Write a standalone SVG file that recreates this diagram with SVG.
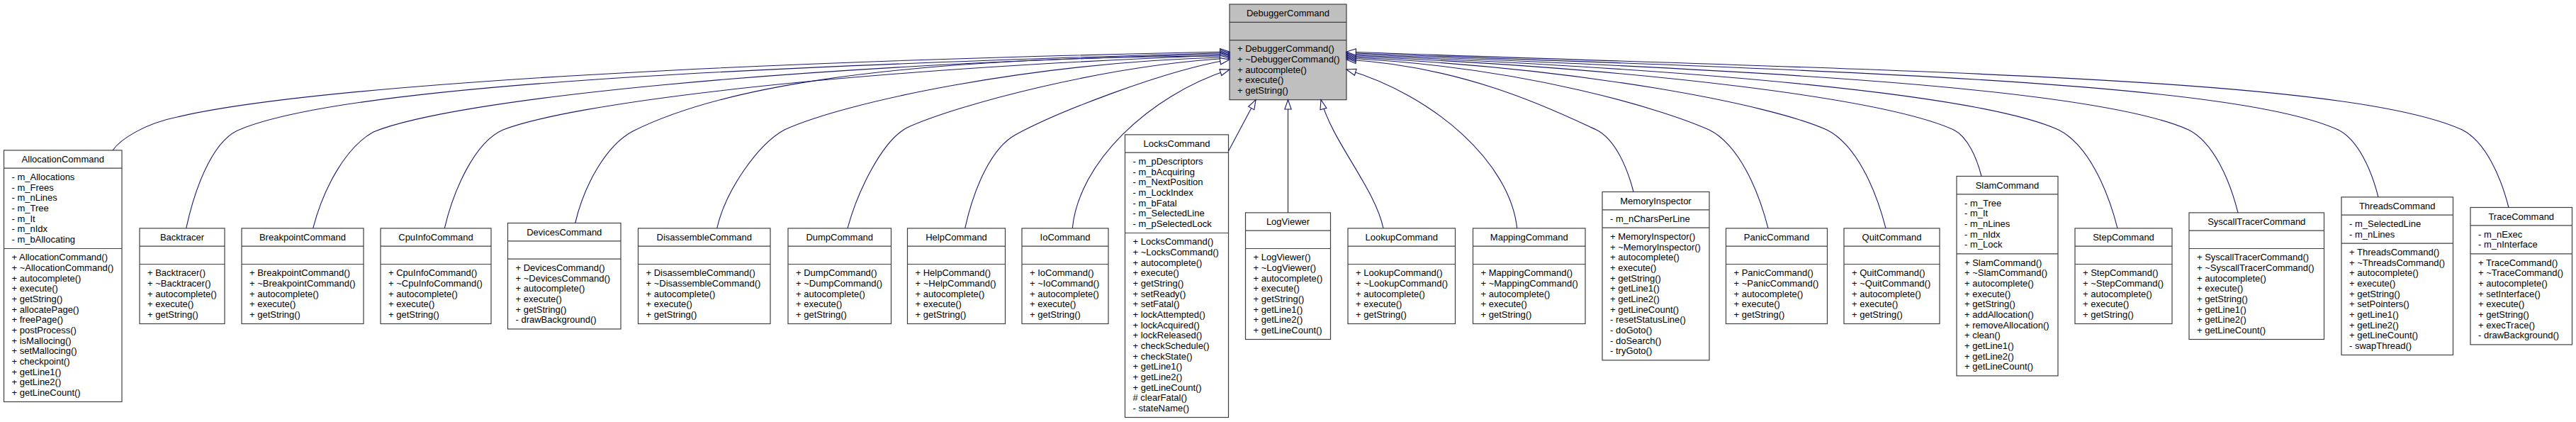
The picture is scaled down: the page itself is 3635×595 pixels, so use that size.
<svg xmlns="http://www.w3.org/2000/svg" width="3635" height="595" viewBox="0 0 3635 595">
<style>
.box{fill:#ffffff;stroke:#404040;stroke-width:1.2}
.root{fill:#bfbfbf;stroke:#404040;stroke-width:1.2}
.sep{fill:none;stroke:#404040;stroke-width:1.2}
text{font-family:"Liberation Sans",Arial,Helvetica,sans-serif;font-size:13px;fill:#000000}
.t{text-anchor:middle}
.e{fill:none;stroke:#191970;stroke-width:1.1;marker-end:url(#arr)}
</style>
<defs>
<marker id="arr" markerUnits="userSpaceOnUse" markerWidth="16" markerHeight="12" refX="13.3" refY="4.65" orient="auto" overflow="visible">
<path d="M0,0 L13.3,4.65 L0,9.3 Z" fill="#ffffff" stroke="#191970" stroke-width="1.1"/>
</marker>
</defs>
<rect x="0" y="0" width="3635" height="595" fill="#ffffff"/>

<g id="DebuggerCommand">
<rect class="root" x="1735" y="6" width="165" height="134.7"/>
<path class="sep" d="M1735,31.3h165M1735,56.7h165"/>
<text class="t" x="1817.5" y="23">DebuggerCommand</text>
<text><tspan x="1746" y="73.4">+ DebuggerCommand()</tspan><tspan x="1746" dy="14.67">+ ~DebuggerCommand()</tspan><tspan x="1746" dy="14.67">+ autocomplete()</tspan><tspan x="1746" dy="14.67">+ execute()</tspan><tspan x="1746" dy="14.67">+ getString()</tspan></text>
</g>

<g id="AllocationCommand">
<rect class="box" x="5.5" y="211.9" width="166.5" height="354.6"/>
<path class="sep" d="M5.5,237.2h166.5M5.5,350.5h166.5"/>
<text class="t" x="88.75" y="228.9">AllocationCommand</text>
<text><tspan x="16.5" y="253.9">- m_Allocations</tspan><tspan x="16.5" dy="14.67">- m_Frees</tspan><tspan x="16.5" dy="14.67">- m_nLines</tspan><tspan x="16.5" dy="14.67">- m_Tree</tspan><tspan x="16.5" dy="14.67">- m_It</tspan><tspan x="16.5" dy="14.67">- m_nIdx</tspan><tspan x="16.5" dy="14.67">- m_bAllocating</tspan></text>
<text><tspan x="16.5" y="367.2">+ AllocationCommand()</tspan><tspan x="16.5" dy="14.67">+ ~AllocationCommand()</tspan><tspan x="16.5" dy="14.67">+ autocomplete()</tspan><tspan x="16.5" dy="14.67">+ execute()</tspan><tspan x="16.5" dy="14.67">+ getString()</tspan><tspan x="16.5" dy="14.67">+ allocatePage()</tspan><tspan x="16.5" dy="14.67">+ freePage()</tspan><tspan x="16.5" dy="14.67">+ postProcess()</tspan><tspan x="16.5" dy="14.67">+ isMallocing()</tspan><tspan x="16.5" dy="14.67">+ setMallocing()</tspan><tspan x="16.5" dy="14.67">+ checkpoint()</tspan><tspan x="16.5" dy="14.67">+ getLine1()</tspan><tspan x="16.5" dy="14.67">+ getLine2()</tspan><tspan x="16.5" dy="14.67">+ getLineCount()</tspan></text>
</g>

<g id="Backtracer">
<rect class="box" x="197" y="321.9" width="120" height="134.6"/>
<path class="sep" d="M197,347.2h120M197,372.5h120"/>
<text class="t" x="257" y="338.9">Backtracer</text>
<text><tspan x="208" y="389.2">+ Backtracer()</tspan><tspan x="208" dy="14.67">+ ~Backtracer()</tspan><tspan x="208" dy="14.67">+ autocomplete()</tspan><tspan x="208" dy="14.67">+ execute()</tspan><tspan x="208" dy="14.67">+ getString()</tspan></text>
</g>

<g id="BreakpointCommand">
<rect class="box" x="341" y="321.9" width="172" height="134.6"/>
<path class="sep" d="M341,347.2h172M341,372.5h172"/>
<text class="t" x="427" y="338.9">BreakpointCommand</text>
<text><tspan x="352" y="389.2">+ BreakpointCommand()</tspan><tspan x="352" dy="14.67">+ ~BreakpointCommand()</tspan><tspan x="352" dy="14.67">+ autocomplete()</tspan><tspan x="352" dy="14.67">+ execute()</tspan><tspan x="352" dy="14.67">+ getString()</tspan></text>
</g>

<g id="CpuInfoCommand">
<rect class="box" x="537" y="321.9" width="156" height="134.6"/>
<path class="sep" d="M537,347.2h156M537,372.5h156"/>
<text class="t" x="615" y="338.9">CpuInfoCommand</text>
<text><tspan x="548" y="389.2">+ CpuInfoCommand()</tspan><tspan x="548" dy="14.67">+ ~CpuInfoCommand()</tspan><tspan x="548" dy="14.67">+ autocomplete()</tspan><tspan x="548" dy="14.67">+ execute()</tspan><tspan x="548" dy="14.67">+ getString()</tspan></text>
</g>

<g id="DevicesCommand">
<rect class="box" x="716.5" y="314.5" width="159.5" height="149.4"/>
<path class="sep" d="M716.5,339.8h159.5M716.5,365.2h159.5"/>
<text class="t" x="796.25" y="331.5">DevicesCommand</text>
<text><tspan x="727.5" y="381.9">+ DevicesCommand()</tspan><tspan x="727.5" dy="14.67">+ ~DevicesCommand()</tspan><tspan x="727.5" dy="14.67">+ autocomplete()</tspan><tspan x="727.5" dy="14.67">+ execute()</tspan><tspan x="727.5" dy="14.67">+ getString()</tspan><tspan x="727.5" dy="14.67">- drawBackground()</tspan></text>
</g>

<g id="DisassembleCommand">
<rect class="box" x="900.5" y="321.9" width="186.5" height="134.6"/>
<path class="sep" d="M900.5,347.2h186.5M900.5,372.5h186.5"/>
<text class="t" x="993.75" y="338.9">DisassembleCommand</text>
<text><tspan x="911.5" y="389.2">+ DisassembleCommand()</tspan><tspan x="911.5" dy="14.67">+ ~DisassembleCommand()</tspan><tspan x="911.5" dy="14.67">+ autocomplete()</tspan><tspan x="911.5" dy="14.67">+ execute()</tspan><tspan x="911.5" dy="14.67">+ getString()</tspan></text>
</g>

<g id="DumpCommand">
<rect class="box" x="1112" y="321.9" width="145.5" height="134.6"/>
<path class="sep" d="M1112,347.2h145.5M1112,372.5h145.5"/>
<text class="t" x="1184.75" y="338.9">DumpCommand</text>
<text><tspan x="1123" y="389.2">+ DumpCommand()</tspan><tspan x="1123" dy="14.67">+ ~DumpCommand()</tspan><tspan x="1123" dy="14.67">+ autocomplete()</tspan><tspan x="1123" dy="14.67">+ execute()</tspan><tspan x="1123" dy="14.67">+ getString()</tspan></text>
</g>

<g id="HelpCommand">
<rect class="box" x="1280.5" y="321.9" width="138" height="134.6"/>
<path class="sep" d="M1280.5,347.2h138M1280.5,372.5h138"/>
<text class="t" x="1349.5" y="338.9">HelpCommand</text>
<text><tspan x="1291.5" y="389.2">+ HelpCommand()</tspan><tspan x="1291.5" dy="14.67">+ ~HelpCommand()</tspan><tspan x="1291.5" dy="14.67">+ autocomplete()</tspan><tspan x="1291.5" dy="14.67">+ execute()</tspan><tspan x="1291.5" dy="14.67">+ getString()</tspan></text>
</g>

<g id="IoCommand">
<rect class="box" x="1442" y="321.9" width="122" height="134.6"/>
<path class="sep" d="M1442,347.2h122M1442,372.5h122"/>
<text class="t" x="1503" y="338.9">IoCommand</text>
<text><tspan x="1453" y="389.2">+ IoCommand()</tspan><tspan x="1453" dy="14.67">+ ~IoCommand()</tspan><tspan x="1453" dy="14.67">+ autocomplete()</tspan><tspan x="1453" dy="14.67">+ execute()</tspan><tspan x="1453" dy="14.67">+ getString()</tspan></text>
</g>

<g id="LocksCommand">
<rect class="box" x="1587.5" y="189.9" width="146" height="398.6"/>
<path class="sep" d="M1587.5,215.2h146M1587.5,328.5h146"/>
<text class="t" x="1660.5" y="206.9">LocksCommand</text>
<text><tspan x="1598.5" y="231.9">- m_pDescriptors</tspan><tspan x="1598.5" dy="14.67">- m_bAcquiring</tspan><tspan x="1598.5" dy="14.67">- m_NextPosition</tspan><tspan x="1598.5" dy="14.67">- m_LockIndex</tspan><tspan x="1598.5" dy="14.67">- m_bFatal</tspan><tspan x="1598.5" dy="14.67">- m_SelectedLine</tspan><tspan x="1598.5" dy="14.67">- m_pSelectedLock</tspan></text>
<text><tspan x="1598.5" y="345.2">+ LocksCommand()</tspan><tspan x="1598.5" dy="14.67">+ ~LocksCommand()</tspan><tspan x="1598.5" dy="14.67">+ autocomplete()</tspan><tspan x="1598.5" dy="14.67">+ execute()</tspan><tspan x="1598.5" dy="14.67">+ getString()</tspan><tspan x="1598.5" dy="14.67">+ setReady()</tspan><tspan x="1598.5" dy="14.67">+ setFatal()</tspan><tspan x="1598.5" dy="14.67">+ lockAttempted()</tspan><tspan x="1598.5" dy="14.67">+ lockAcquired()</tspan><tspan x="1598.5" dy="14.67">+ lockReleased()</tspan><tspan x="1598.5" dy="14.67">+ checkSchedule()</tspan><tspan x="1598.5" dy="14.67">+ checkState()</tspan><tspan x="1598.5" dy="14.67">+ getLine1()</tspan><tspan x="1598.5" dy="14.67">+ getLine2()</tspan><tspan x="1598.5" dy="14.67">+ getLineCount()</tspan><tspan x="1598.5" dy="14.67"># clearFatal()</tspan><tspan x="1598.5" dy="14.67">- stateName()</tspan></text>
</g>

<g id="LogViewer">
<rect class="box" x="1757.5" y="299.9" width="120" height="178.6"/>
<path class="sep" d="M1757.5,325.2h120M1757.5,350.5h120"/>
<text class="t" x="1817.5" y="316.9">LogViewer</text>
<text><tspan x="1768.5" y="367.2">+ LogViewer()</tspan><tspan x="1768.5" dy="14.67">+ ~LogViewer()</tspan><tspan x="1768.5" dy="14.67">+ autocomplete()</tspan><tspan x="1768.5" dy="14.67">+ execute()</tspan><tspan x="1768.5" dy="14.67">+ getString()</tspan><tspan x="1768.5" dy="14.67">+ getLine1()</tspan><tspan x="1768.5" dy="14.67">+ getLine2()</tspan><tspan x="1768.5" dy="14.67">+ getLineCount()</tspan></text>
</g>

<g id="LookupCommand">
<rect class="box" x="1902" y="321.9" width="151.5" height="134.6"/>
<path class="sep" d="M1902,347.2h151.5M1902,372.5h151.5"/>
<text class="t" x="1977.75" y="338.9">LookupCommand</text>
<text><tspan x="1913" y="389.2">+ LookupCommand()</tspan><tspan x="1913" dy="14.67">+ ~LookupCommand()</tspan><tspan x="1913" dy="14.67">+ autocomplete()</tspan><tspan x="1913" dy="14.67">+ execute()</tspan><tspan x="1913" dy="14.67">+ getString()</tspan></text>
</g>

<g id="MappingCommand">
<rect class="box" x="2078.5" y="321.9" width="158.5" height="134.6"/>
<path class="sep" d="M2078.5,347.2h158.5M2078.5,372.5h158.5"/>
<text class="t" x="2157.75" y="338.9">MappingCommand</text>
<text><tspan x="2089.5" y="389.2">+ MappingCommand()</tspan><tspan x="2089.5" dy="14.67">+ ~MappingCommand()</tspan><tspan x="2089.5" dy="14.67">+ autocomplete()</tspan><tspan x="2089.5" dy="14.67">+ execute()</tspan><tspan x="2089.5" dy="14.67">+ getString()</tspan></text>
</g>

<g id="MemoryInspector">
<rect class="box" x="2261" y="270.5" width="151" height="237.4"/>
<path class="sep" d="M2261,295.9h151M2261,321.2h151"/>
<text class="t" x="2336.5" y="287.5">MemoryInspector</text>
<text><tspan x="2272" y="312.6">- m_nCharsPerLine</tspan></text>
<text><tspan x="2272" y="337.9">+ MemoryInspector()</tspan><tspan x="2272" dy="14.67">+ ~MemoryInspector()</tspan><tspan x="2272" dy="14.67">+ autocomplete()</tspan><tspan x="2272" dy="14.67">+ execute()</tspan><tspan x="2272" dy="14.67">+ getString()</tspan><tspan x="2272" dy="14.67">+ getLine1()</tspan><tspan x="2272" dy="14.67">+ getLine2()</tspan><tspan x="2272" dy="14.67">+ getLineCount()</tspan><tspan x="2272" dy="14.67">- resetStatusLine()</tspan><tspan x="2272" dy="14.67">- doGoto()</tspan><tspan x="2272" dy="14.67">- doSearch()</tspan><tspan x="2272" dy="14.67">- tryGoto()</tspan></text>
</g>

<g id="PanicCommand">
<rect class="box" x="2435.5" y="321.9" width="143" height="134.6"/>
<path class="sep" d="M2435.5,347.2h143M2435.5,372.5h143"/>
<text class="t" x="2507" y="338.9">PanicCommand</text>
<text><tspan x="2446.5" y="389.2">+ PanicCommand()</tspan><tspan x="2446.5" dy="14.67">+ ~PanicCommand()</tspan><tspan x="2446.5" dy="14.67">+ autocomplete()</tspan><tspan x="2446.5" dy="14.67">+ execute()</tspan><tspan x="2446.5" dy="14.67">+ getString()</tspan></text>
</g>

<g id="QuitCommand">
<rect class="box" x="2602" y="321.9" width="135" height="134.6"/>
<path class="sep" d="M2602,347.2h135M2602,372.5h135"/>
<text class="t" x="2669.5" y="338.9">QuitCommand</text>
<text><tspan x="2613" y="389.2">+ QuitCommand()</tspan><tspan x="2613" dy="14.67">+ ~QuitCommand()</tspan><tspan x="2613" dy="14.67">+ autocomplete()</tspan><tspan x="2613" dy="14.67">+ execute()</tspan><tspan x="2613" dy="14.67">+ getString()</tspan></text>
</g>

<g id="SlamCommand">
<rect class="box" x="2761" y="248.5" width="143" height="281.4"/>
<path class="sep" d="M2761,273.9h143M2761,357.9h143"/>
<text class="t" x="2832.5" y="265.5">SlamCommand</text>
<text><tspan x="2772" y="290.6">- m_Tree</tspan><tspan x="2772" dy="14.67">- m_It</tspan><tspan x="2772" dy="14.67">- m_nLines</tspan><tspan x="2772" dy="14.67">- m_nIdx</tspan><tspan x="2772" dy="14.67">- m_Lock</tspan></text>
<text><tspan x="2772" y="374.6">+ SlamCommand()</tspan><tspan x="2772" dy="14.67">+ ~SlamCommand()</tspan><tspan x="2772" dy="14.67">+ autocomplete()</tspan><tspan x="2772" dy="14.67">+ execute()</tspan><tspan x="2772" dy="14.67">+ getString()</tspan><tspan x="2772" dy="14.67">+ addAllocation()</tspan><tspan x="2772" dy="14.67">+ removeAllocation()</tspan><tspan x="2772" dy="14.67">+ clean()</tspan><tspan x="2772" dy="14.67">+ getLine1()</tspan><tspan x="2772" dy="14.67">+ getLine2()</tspan><tspan x="2772" dy="14.67">+ getLineCount()</tspan></text>
</g>

<g id="StepCommand">
<rect class="box" x="2928" y="321.9" width="137" height="134.6"/>
<path class="sep" d="M2928,347.2h137M2928,372.5h137"/>
<text class="t" x="2996.5" y="338.9">StepCommand</text>
<text><tspan x="2939" y="389.2">+ StepCommand()</tspan><tspan x="2939" dy="14.67">+ ~StepCommand()</tspan><tspan x="2939" dy="14.67">+ autocomplete()</tspan><tspan x="2939" dy="14.67">+ execute()</tspan><tspan x="2939" dy="14.67">+ getString()</tspan></text>
</g>

<g id="SyscallTracerCommand">
<rect class="box" x="3089" y="299.9" width="190.5" height="178.6"/>
<path class="sep" d="M3089,325.2h190.5M3089,350.5h190.5"/>
<text class="t" x="3184.25" y="316.9">SyscallTracerCommand</text>
<text><tspan x="3100" y="367.2">+ SyscallTracerCommand()</tspan><tspan x="3100" dy="14.67">+ ~SyscallTracerCommand()</tspan><tspan x="3100" dy="14.67">+ autocomplete()</tspan><tspan x="3100" dy="14.67">+ execute()</tspan><tspan x="3100" dy="14.67">+ getString()</tspan><tspan x="3100" dy="14.67">+ getLine1()</tspan><tspan x="3100" dy="14.67">+ getLine2()</tspan><tspan x="3100" dy="14.67">+ getLineCount()</tspan></text>
</g>

<g id="ThreadsCommand">
<rect class="box" x="3304" y="277.9" width="157.5" height="222.6"/>
<path class="sep" d="M3304,303.2h157.5M3304,343.2h157.5"/>
<text class="t" x="3382.75" y="294.9">ThreadsCommand</text>
<text><tspan x="3315" y="319.9">- m_SelectedLine</tspan><tspan x="3315" dy="14.67">- m_nLines</tspan></text>
<text><tspan x="3315" y="359.9">+ ThreadsCommand()</tspan><tspan x="3315" dy="14.67">+ ~ThreadsCommand()</tspan><tspan x="3315" dy="14.67">+ autocomplete()</tspan><tspan x="3315" dy="14.67">+ execute()</tspan><tspan x="3315" dy="14.67">+ getString()</tspan><tspan x="3315" dy="14.67">+ setPointers()</tspan><tspan x="3315" dy="14.67">+ getLine1()</tspan><tspan x="3315" dy="14.67">+ getLine2()</tspan><tspan x="3315" dy="14.67">+ getLineCount()</tspan><tspan x="3315" dy="14.67">- swapThread()</tspan></text>
</g>

<g id="TraceCommand">
<rect class="box" x="3486" y="292.5" width="143.5" height="193.4"/>
<path class="sep" d="M3486,317.9h143.5M3486,357.9h143.5"/>
<text class="t" x="3557.75" y="309.5">TraceCommand</text>
<text><tspan x="3497" y="334.6">- m_nExec</tspan><tspan x="3497" dy="14.67">- m_nInterface</tspan></text>
<text><tspan x="3497" y="374.6">+ TraceCommand()</tspan><tspan x="3497" dy="14.67">+ ~TraceCommand()</tspan><tspan x="3497" dy="14.67">+ autocomplete()</tspan><tspan x="3497" dy="14.67">+ setInterface()</tspan><tspan x="3497" dy="14.67">+ execute()</tspan><tspan x="3497" dy="14.67">+ getString()</tspan><tspan x="3497" dy="14.67">+ execTrace()</tspan><tspan x="3497" dy="14.67">- drawBackground()</tspan></text>
</g>

<g id="connectors">
<path class="e" d="M159,212 C170,196 205,174 250,165 C420,125 935,89 1735,73"/>
<path class="e" d="M262.7,321.9 C278,252 305,194 340,182 C480,125 960,96 1735,74.5"/>
<path class="e" d="M441.7,321.9 C456,267 487,208 527,186 C640,140 1100,92 1735,76"/>
<path class="e" d="M627.3,321.9 C640,268 670,200 710,183 C800,148 1150,100 1735,77.5"/>
<path class="e" d="M811.7,314.5 C824,262 855,205 893,185 C993,135 1200,80 1735,79"/>
<path class="e" d="M1011.7,321.9 C1024,268 1070,203 1107,183 C1190,145 1450,88 1735,80.5"/>
<path class="e" d="M1196,321.9 C1210,270 1245,198 1280,180 C1350,148 1560,92 1735,82"/>
<path class="e" d="M1361.7,321.9 C1375,262 1400,208 1433,190 C1490,159 1640,100 1735,84"/>
<path class="e" d="M1513.3,321.9 C1522,230 1620,135 1735,98"/>
<path class="e" d="M1733.5,213 L1772,140.7"/>
<path class="e" d="M1817.5,299.9 L1817.5,140.7"/>
<path class="e" d="M1952,321.9 C1940,265 1880,200 1864,140.7"/>
<path class="e" d="M2140.7,321.9 C2131,230 2025,135 1900,98"/>
<path class="e" d="M2305,270.5 C2296.1,235.4 2278.8,196.1 2252.6,183 C2207.3,162.6 2076.3,94.2 1900,84"/>
<path class="e" d="M2495,321.9 C2480.8,266.3 2453.3,203.9 2411.7,183 C2350.5,155.5 2155.9,94.7 1900,82"/>
<path class="e" d="M2661,321.9 C2646.8,266.3 2619.3,203.9 2577.7,183 C2499.9,148 2238.9,95.7 1900,80.5"/>
<path class="e" d="M2796,248.5 C2789.3,222.2 2776.4,192.8 2756.8,183 C2661.1,139.9 2328.4,96.9 1900,79"/>
<path class="e" d="M2988,321.9 C2973.8,266.3 2946.3,203.9 2904.7,183 C2794.2,133.3 2402.4,97.5 1900,77.5"/>
<path class="e" d="M3158,299.9 C3146.1,252.8 3123.1,200.4 3088.2,183 C2959.4,125 2494.1,98.6 1900,76"/>
<path class="e" d="M3356,277.9 C3346.4,239.7 3327.6,197.2 3299.3,183 C3149.4,115.5 2599.7,100.4 1900,74.5"/>
<path class="e" d="M3540,292.5 C3528.8,248.7 3507.1,199.4 3474.3,183 C3306.9,107.7 2687.2,101.3 1900,73"/>
</g>
</svg>
